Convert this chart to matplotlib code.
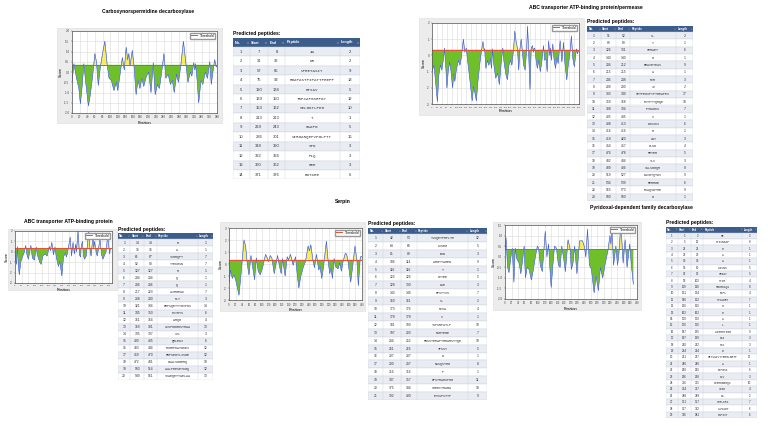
import numpy as np
import matplotlib
matplotlib.use('Agg')
import matplotlib.pyplot as plt
from matplotlib.patches import Rectangle

W, H = 768, 432
plt.rcParams['font.family'] = ['Liberation Sans', 'DejaVu Sans']

THR = 0.35

# ---- panel 1 : Carboxynorspermidine decarboxylase ----
pos1 = [0, 5, 12, 18, 22, 27, 31, 36, 43, 48, 54, 60, 64, 69, 74, 80, 86, 92, 97, 103, 110, 116, 120,
        126, 132, 137, 142, 146, 149, 152, 158, 163, 168, 173, 178, 183, 188, 195, 201, 207, 213, 218,
        224, 229, 235, 241, 246, 252, 258, 263, 268, 274, 279, 285, 292, 298, 304, 310, 314, 319, 322,
        324, 328, 332, 338, 343, 349, 355, 361, 365, 370, 374, 378, 380]
score1 = [-0.5, 0.4, -0.3, -0.8, -1.55, -0.6, 0.4, -0.5, -1.65, -1.1, -0.2, 0.9, 0.5, -0.65, 0.2, 0.9,
          1.5, 0.4, -0.3, -0.4, -0.9, -0.5, -0.9, -0.1, 0.7, 0.1, 1.2, 0.6, 0.9, 0.3, 1.05, 0.2, -1.1,
          -0.4, -0.8, -0.3, -0.7, -0.2, 0.0, -1.0, 0.45, -1.1, -0.6, -0.8, 0.0, 0.9, -0.3, -0.1, -0.6,
          -0.4, -1.0, -0.1, -0.5, 0.3, 1.5, 0.5, -0.5, 0.0, -0.2, 0.45, 0.1, 0.4, -0.4, -1.5, -0.4,
          -0.6, 0.0, -0.3, 0.5, -0.6, 0.1, 0.6, 0.25, 0.3]
t1_start = [7, 31, 57, 75, 130, 139, 153, 213, 239, 286, 318, 322, 360, 371]
t1_end = [8, 32, 65, 92, 134, 150, 162, 213, 243, 301, 320, 324, 362, 376]
t1_pep = ['IA', 'DR', 'VPRETASIY', 'RGAPASTPIPATTPEEFP', 'ETSAV', 'TRPCAPGSRPGY', 'SELGDTLPEG',
          'T', 'GSAPG', 'VIRGARQEPVPGLPTT', 'SPD', 'PLQ', 'GEE', 'EDTKEE']
t1_len = [2, 2, 9, 18, 5, 12, 10, 1, 5, 16, 3, 3, 3, 6]

# ---- panel 2 : ABC transporter ATP-binding protein/permease ----
pos2 = [0, 8, 14, 22, 28, 34, 40, 46, 51, 56, 61, 66, 72, 78, 84, 89, 93, 100, 108, 114, 120, 128,
        134, 140, 146, 154, 164, 170, 174, 181, 188, 196, 202, 208, 213, 215, 220, 226, 232, 238, 243,
        247, 252, 260, 268, 275, 282, 289, 294, 302, 308, 314, 320, 326, 333, 338, 343, 349, 354, 359,
        364, 368, 374, 380, 386, 390, 394, 400, 405, 410, 414, 417, 420, 425, 430, 436, 442, 448, 455,
        460, 466, 470, 476, 481, 483, 487, 493, 498, 504, 510, 515, 523, 530, 537, 542, 550, 556, 562,
        569, 575, 581, 586, 590, 594, 598]
score2 = [-1.0, -0.6, -1.5, -2.85, -1.2, -0.6, -0.9, -0.3, 0.45, -0.6, -2.0, -1.0, -0.4, -1.0, -2.0,
          -1.1, -1.6, -0.8, -0.3, -0.6, -0.1, 1.0, 0.2, 0.45, -0.4, -1.4, -2.8, -1.9, -2.2, -2.8, -1.5,
          -0.4, 0.3, 0.85, 0.3, 0.4, -0.8, -0.3, -0.6, -0.2, -0.8, 0.4, -0.5, -1.4, -1.1, -1.8, -0.5,
          0.45, -0.4, -1.2, -1.5, -0.6, -0.3, -0.6, 0.4, 1.5, 0.9, 0.4, -0.9, 0.4, 1.0, 0.4, -0.6, -0.9,
          0.3, 1.8, 0.4, -2.1, 0.45, 0.6, 0.2, 0.45, 0.4, -0.3, -0.8, -0.3, -1.0, -0.4, 0.6, -0.3, -0.2,
          -1.0, 0.9, 0.0, 0.45, -0.3, 0.7, -0.2, -0.8, -0.1, -0.5, 0.9, -0.4, 0.8, -0.4, -1.5, -0.6,
          0.0, 1.2, -0.2, -0.7, 0.0, 0.4, 0.1, 0.3]
t2_start = [51, 89, 126, 140, 204, 215, 246, 289, 333, 359, 388, 405, 408, 416, 418, 454, 474, 482,
            489, 519, 534, 565, 590]
t2_end = [52, 89, 131, 140, 212, 215, 248, 290, 349, 368, 394, 405, 413, 416, 420, 457, 478, 484,
          496, 527, 539, 573, 590]
t2_pep = ['SL', 'Y', 'SERAEY', 'G', 'ERAVETEAS', 'A', 'RVR', 'IT', 'SETPEGIPYPTREAPEI', 'PSYPTYQRQE',
          'PTGAGKS', 'V', 'DGSIKI', 'R', 'LNT', 'GLSD', 'RRTER', 'TLV', 'VSLSGGQR', 'DAVGTQTDI',
          'RERRGE', 'RIAQSGTHE', 'G']
t2_len = [2, 1, 6, 1, 9, 1, 3, 2, 17, 10, 7, 1, 6, 1, 3, 4, 5, 3, 8, 9, 6, 9, 1]

# ---- panel 3 : ABC transporter ATP-binding protein ----
pos3 = [0, 8, 14, 20, 26, 34, 44, 54, 64, 72, 80, 95, 104, 116, 127, 134, 148, 156, 166, 180, 192, 205,
        211, 220, 230, 239, 248, 260, 268, 280, 290, 300, 308, 316, 330, 338, 347, 355, 363, 367, 377,
        386, 392, 396, 403, 410, 416, 426, 441, 450, 455, 466, 471, 476, 486, 492, 508, 518, 526, 536,
        544, 554, 562, 566, 570]
score3 = [-0.2, -1.2, 0.5, -1.3, -2.2, -1.0, -0.5, -0.1, 0.6, -0.3, -0.7, 0.6, -0.6, -0.8, 0.45, -0.3,
          -1.0, -1.2, -0.4, -0.2, -0.4, 0.5, 0.1, 0.9, -0.3, 0.45, -0.6, -1.4, -0.9, -2.3, -0.5, -0.1,
          -0.5, 0.1, 1.4, -0.4, 0.9, -0.2, 0.7, 0.0, 2.0, -0.3, -0.5, 0.5, 1.0, -0.4, -0.7, -0.4, 1.9,
          -0.1, -0.4, 1.5, 0.4, 1.0, -0.1, -0.4, 1.2, -0.3, -0.7, -0.3, 0.0, 1.5, 0.4, -0.2, 0.3]
t3_start = [14, 16, 61, 92, 127, 204, 206, 217, 238, 321, 345, 361, 369, 395, 400, 433, 459, 472,
            503, 549]
t3_end = [14, 16, 67, 98, 127, 204, 206, 223, 240, 334, 350, 364, 381, 397, 405, 444, 470, 481,
          514, 561]
t3_pep = ['R', 'A', 'YIGRQPT', 'YTEKGSN', 'R', 'Q', 'Q', 'AIRGEAK', 'RLT', 'DRPSQETTYGVPDS', 'PSYRTS',
          'ARQG', 'LVSPGGGRSTRAA', 'ITL', 'QRLEKI', 'RIGRPDATGKEI', 'RRPSEGTLISGE', 'GAALSGGERQ',
          'AALPEESETKGQ', 'TVAEQETTAELAA']
t3_len = [1, 1, 7, 7, 1, 1, 1, 7, 3, 14, 6, 4, 13, 3, 6, 12, 12, 10, 12, 13]

# ---- panel 4 : Serpin ----
pos4 = [0, 5, 10, 15, 20, 30, 37, 45, 50, 55, 60, 66, 72, 77, 82, 88, 94, 101, 110, 116, 119, 124, 129,
        136, 140, 146, 152, 157, 161, 169, 175, 179, 185, 193, 200, 205, 210, 216, 224, 230, 238, 242,
        246, 252, 257, 263, 270, 274, 279, 284, 287, 293, 298, 303, 307, 311, 316, 320, 328, 333, 338,
        343, 350, 354, 358, 366, 371, 379, 385, 389, 395, 400]
score4 = [-1.5, -0.5, -1.2, -0.9, -1.3, -2.6, -0.6, 2.0, 1.5, 0.0, -0.9, 0.7, -0.4, -1.3, 0.5, -0.6,
          -0.9, -0.3, 0.8, 0.45, 0.2, 0.7, 0.5, -0.8, -0.2, 0.7, -0.2, -0.8, 0.45, -1.0, 0.6, 0.35, 0.8,
          -0.1, 0.6, -0.8, -2.0, -1.0, -0.2, 0.2, 1.5, 1.1, 1.6, 0.4, -0.3, 0.8, -0.5, -0.2, -1.2, -0.3,
          0.45, 1.9, 0.3, -0.8, -0.3, -1.2, 0.45, -0.2, -0.4, 0.1, -0.6, 0.2, 0.9, 0.8, 0.2, -1.5, -0.4,
          1.5, 0.2, -1.8, 0.6, 0.6]
t4_start = [42, 64, 81, 106, 116, 122, 128, 143, 160, 173, 178, 181, 197, 234, 261, 287, 290, 316,
            347, 375, 392]
t4_end = [53, 68, 83, 114, 116, 126, 130, 149, 161, 176, 178, 190, 203, 252, 265, 287, 297, 316,
          357, 384, 400]
t4_pep = ['TSSQETPRPLTE', 'KISRG', 'EHN', 'ARGYTAGEN', 'T', 'GYTEE', 'DSE', 'DPSTTIS', 'SL', 'RYSA',
          'V', 'YSPSRPATLP', 'RARTEGE', 'RRSSTERAPTRRARSTTQE', 'TPSST', 'G', 'NSSQSTRG', 'P',
          'DPSTRAGSPGG', 'VGEECTRAMA', 'ETSSPSTTP']
t4_len = [12, 5, 3, 9, 1, 5, 3, 7, 2, 4, 1, 10, 7, 19, 5, 1, 8, 1, 11, 10, 9]

# ---- panel 5 : Pyridoxal-dependent family decarboxylase ----
pos5 = [0, 3, 8, 12, 18, 22, 27, 31, 36, 43, 48, 53, 58, 62, 67, 73, 80, 86, 92, 98, 102, 107, 113,
        122, 127, 132, 136, 140, 145, 150, 156, 162, 167, 172, 178, 183, 191, 197, 201, 206, 211, 218,
        226, 235, 240, 245, 250, 256, 262, 270, 276, 283, 289, 296, 304, 312, 318, 321, 324, 329, 336,
        341, 345, 350, 354, 358, 364, 370, 378, 383, 389]
score5 = [0.3, 0.9, -0.5, -0.75, 0.0, 0.4, -1.2, 0.4, -0.1, -0.3, -0.8, -0.2, 0.5, -1.0, -0.5, -0.6,
          -1.1, -0.6, 0.0, 0.5, 0.4, -0.4, -0.7, 1.2, 0.0, 0.6, -0.5, -1.45, -0.4, 0.5, 0.4, -0.4, -0.5,
          0.5, -0.1, -0.7, 0.8, 0.4, -0.6, -0.3, 0.5, -0.8, 0.75, 0.75, 0.5, 0.0, 1.3, -0.4, -0.6, -1.7,
          -0.9, -1.6, -0.5, -1.0, -0.3, 0.3, 1.0, 0.6, 1.3, -0.4, 0.5, -0.4, 0.1, 1.3, 0.8, -0.3, 0.8,
          -0.5, 0.6, -0.4, -1.3]
t5_start = [1, 5, 21, 23, 30, 56, 92, 99, 119, 131, 146, 156, 162, 170, 176, 187, 197, 210, 214, 221,
            240, 250, 266, 316, 334, 348, 351, 367, 376]
t5_end = [2, 12, 21, 23, 30, 60, 96, 102, 126, 134, 152, 156, 162, 170, 176, 195, 199, 212, 214, 237,
          240, 255, 268, 325, 337, 349, 357, 372, 381]
t5_pep = ['ME', 'GTISNKAF', 'G', 'A', 'A', 'AKVNS', 'SRGAY', 'TYSR', 'TGKRGLQA', 'FAPL', 'TTSAGRT', 'G',
          'G', 'A', 'L', 'AGGRGTIGM', 'GAI', 'GSS', 'G', 'GEYSAIVTYEEGLGRTP', 'A', 'GVPGSI', 'GLV',
          'ITGRGNGGQS', 'VSGD', 'GA', 'STRLKPA', 'AVSAGT', 'MSPIVT']
t5_len = [2, 8, 1, 1, 1, 5, 5, 4, 8, 4, 7, 1, 1, 1, 1, 9, 3, 3, 1, 17, 1, 6, 3, 10, 4, 2, 7, 6, 6]


def frac(x, y, w, h):
    return [x / W, 1 - (y + h) / H, w / W, h / H]


def score_panel(fig, box, axr, pos, score, xmax, xstep, ylim, yticks, yfmt, xfs=2.2):
    bx, by, bw, bh = box
    fig.add_artist(Rectangle((bx / W, 1 - (by + bh) / H), bw / W, bh / H,
                             transform=fig.transFigure, facecolor='#ececec',
                             edgecolor='#e2e2e2', lw=0.5, zorder=0))
    ax = fig.add_axes(frac(*axr))
    x = np.array(pos, dtype=float)
    y = np.array(score, dtype=float)
    ax.fill_between(x, y, THR, where=y >= THR, interpolate=True, color='#f6ec5e', lw=0)
    ax.fill_between(x, y, THR, where=y <= THR, interpolate=True, color='#6fbf2a', lw=0)
    ax.plot(x, y, color='#9aaeea', lw=0.55, alpha=0.9, solid_joinstyle='round')
    ax.plot(x, y, color='#2b4acb', lw=0.3)
    ax.axhline(THR, color='#e4503a', lw=0.7, label='Threshold')
    ax.set_xlim(0, xmax)
    ax.set_ylim(*ylim)
    ax.set_xticks(np.arange(0, xmax + 1, xstep))
    ax.set_yticks(yticks)
    ax.set_yticklabels([yfmt % v for v in yticks])
    ax.grid(color='#dadada', lw=0.4)
    ax.set_axisbelow(True)
    ax.tick_params(labelsize=2.2, length=1, width=0.3, pad=0.8, colors='#444444')
    ax.tick_params(axis='x', labelsize=xfs)
    for s in ax.spines.values():
        s.set_color('#555555')
        s.set_linewidth(0.5)
    ax.set_xlabel('Position', fontsize=2.8, labelpad=1)
    ax.set_ylabel('Score', fontsize=2.8, labelpad=1)
    ax.legend(loc='upper right', fontsize=2.3, frameon=True, handlelength=2, borderpad=0.3,
              fancybox=False, edgecolor='#999999', framealpha=1)
    return ax


def peptide_table(fig, x, y, w, head_h, row_h, start, end, pep, length, fs):
    n = len(start)
    h = head_h + n * row_h
    ax = fig.add_axes(frac(x, y, w, h))
    ax.set_xlim(0, w)
    ax.set_ylim(h, 0)
    ax.axis('off')
    cols = np.array([0.13, 0.145, 0.135, 0.43, 0.16])
    edges = np.concatenate([[0], np.cumsum(cols)]) * w
    ax.add_patch(Rectangle((0, 0), w, head_h, facecolor='#3c5c8b', edgecolor='none'))
    for i, hd in enumerate(['No.', 'Start', 'End', 'Peptide', 'Length']):
        ax.text(edges[i] + w * 0.012, head_h / 2, hd, color='white', fontsize=fs * 0.9,
                fontweight='bold', va='center', ha='left')
        ax.text(edges[i + 1] - w * 0.008, head_h / 2, '\u21d5', color='#dfe6f2', fontsize=fs * 0.6,
                va='center', ha='right', family='DejaVu Sans')
    for r in range(n):
        y0 = head_h + r * row_h
        ax.add_patch(Rectangle((0, y0), w, row_h, facecolor='#e9ecf3' if r % 2 == 0 else 'white',
                               edgecolor='#cdd2dc', lw=0.3))
        vals = [r + 1, start[r], end[r], pep[r], length[r]]
        for i, v in enumerate(vals):
            ax.text((edges[i] + edges[i + 1]) / 2, y0 + row_h / 2, str(v), fontsize=fs,
                    ha='center', va='center', color='#333333',
                    family='Liberation Mono' if i == 3 else None)
    for e in edges[1:-1]:
        ax.plot([e, e], [head_h, h], color='#cdd2dc', lw=0.3)
    fig.text(x / W, 1 - (y - 1.5) / H, 'Predicted peptides:', fontsize=3.6,
             fontweight='bold', va='bottom', ha='left')


fig = plt.figure(figsize=(W / 100, H / 100), dpi=100)

# panel 1
fig.text(148 / W, 1 - 12 / H, 'Carboxynorspermidine decarboxylase', fontsize=3.6,
         fontweight='bold', ha='center', va='center')
score_panel(fig, (57, 28, 165, 95), (72, 31, 145, 82), pos1, score1, 380, 20, (-2, 2),
            np.arange(-2, 2.01, 0.5), '%.1f')
peptide_table(fig, 233, 38, 127, 9, 9.46, t1_start, t1_end, t1_pep, t1_len, 3.0)

# panel 2
fig.text(586 / W, 1 - 7 / H, 'ABC transporter ATP-binding protein/permease', fontsize=3.6,
         fontweight='bold', ha='center', va='center')
score_panel(fig, (419, 18, 165, 97), (432, 23, 147, 81), pos2, score2, 600, 20, (-3, 2),
            np.arange(-3, 2.01, 1), '%d', xfs=1.7)
peptide_table(fig, 587, 26, 106, 6, 7.35, t2_start, t2_end, t2_pep, t2_len, 2.4)

# panel 3
fig.text(68 / W, 1 - 222 / H, 'ABC transporter ATP-binding protein', fontsize=3.6,
         fontweight='bold', ha='center', va='center')
score_panel(fig, (8, 229, 109, 61), (15, 231, 97, 52), pos3, score3, 580, 40, (-3, 2),
            np.arange(-3, 2.01, 1), '%d', xfs=1.7)
peptide_table(fig, 118, 233, 95, 6, 7.05, t3_start, t3_end, t3_pep, t3_len, 2.4)

# panel 4
fig.text(343 / W, 1 - 202 / H, 'Serpin', fontsize=3.6, fontweight='bold',
         ha='center', va='center')
score_panel(fig, (220, 222, 145, 89), (229, 228, 133, 72), pos4, score4, 400, 20, (-3, 3),
            np.arange(-3, 3.01, 1), '%d', xfs=1.9)
peptide_table(fig, 368, 228, 119, 6, 7.9, t4_start, t4_end, t4_pep, t4_len, 2.4)

# panel 5
fig.text(641 / W, 1 - 207 / H, 'Pyridoxal-dependent family decarboxylase', fontsize=3.6,
         fontweight='bold', ha='center', va='center')
score_panel(fig, (493, 222, 148, 88), (505, 225, 132, 74), pos5, score5, 400, 20, (-2, 1.5),
            np.arange(-2, 1.51, 0.5), '%.1f', xfs=1.9)
peptide_table(fig, 666, 227, 91, 5.5, 6.4, t5_start, t5_end, t5_pep, t5_len, 2.2)

fig.savefig('out.png', dpi=100, facecolor='white')
